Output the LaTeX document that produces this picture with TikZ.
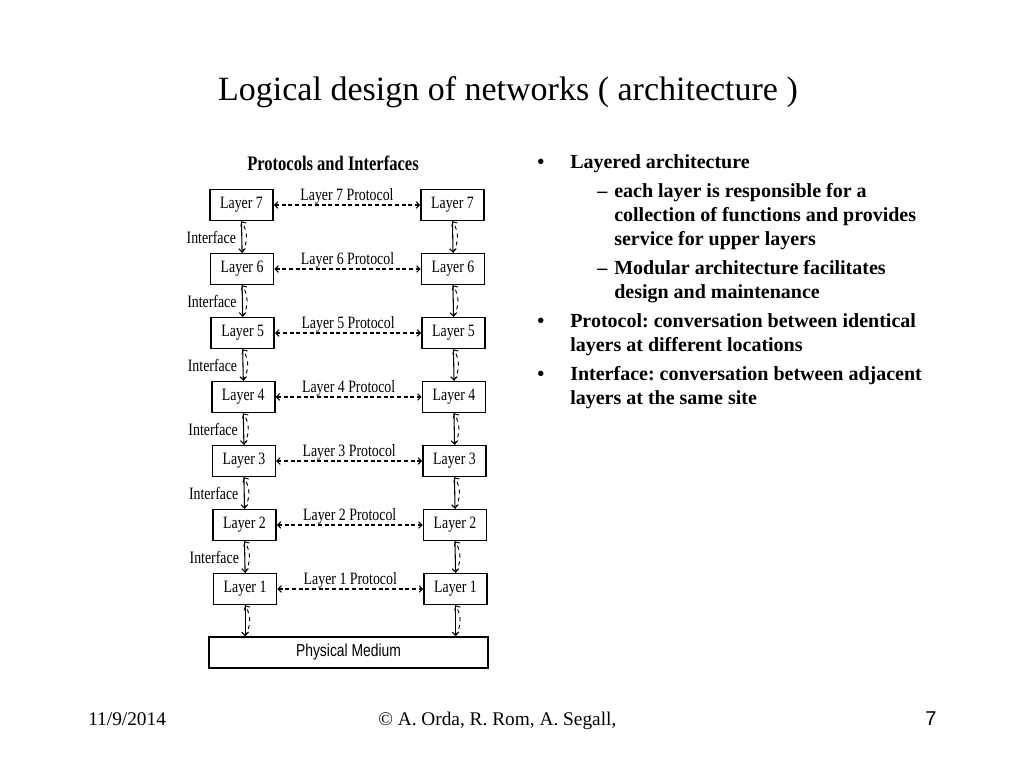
\documentclass[tikz,border=0pt]{standalone}
\usepackage{fontspec}
\usetikzlibrary{arrows.meta}
\setmainfont{Liberation Serif}
\newfontfamily\figfont[FakeStretch=0.8]{Liberation Serif}
\newfontfamily\figsans[FakeStretch=0.8]{Liberation Sans}
\newfontfamily\pagesans{Liberation Sans}
\frenchspacing

\begin{document}
\begin{tikzpicture}[x=0.75pt, y=-0.75pt, >={Straight Barb[length=2.5pt, width=5pt]},
  layer/.style={draw, line width=1.2pt, inner sep=0pt, minimum width=47.25pt, minimum height=23.25pt, font=\figfont\fontsize{13}{15}\selectfont},
  lbl/.style={font=\figfont\fontsize{13}{15}\selectfont, inner sep=1pt},
  txt/.style={font=\bfseries\fontsize{15}{18}\selectfont, inner sep=0pt, anchor=base west, align=left}]
\tikzset{proto/.style={<->, densely dashed, line width=0.8pt},
  iface/.style={->, line width=0.8pt},
  back/.style={->, dashed, line width=0.7pt, bend right=30}}
\fill[white] (0,0) rectangle (1024,768);
\useasboundingbox (0,0) rectangle (1024,768);

% title
\node[font=\fontsize{25.5}{30}\selectfont, anchor=base] (title) at (508,100) {Logical design of networks ( architecture )};

% figure
\node[font=\figfont\bfseries\fontsize{15.5}{18}\selectfont] (head) at (333,163) {Protocols and Interfaces};

\node[layer] (l7) at (241.5,205) {Layer 7};
\node[layer] (l6) at (242.1,269) {Layer 6};
\node[layer] (l5) at (242.7,333) {Layer 5};
\node[layer] (l4) at (243.3,397) {Layer 4};
\node[layer] (l3) at (243.9,461) {Layer 3};
\node[layer] (l2) at (244.5,525) {Layer 2};
\node[layer] (l1) at (245.1,589) {Layer 1};

\node[layer] (r7) at (452.5,205) {Layer 7};
\node[layer] (r6) at (453,269) {Layer 6};
\node[layer] (r5) at (453.5,333) {Layer 5};
\node[layer] (r4) at (454,397) {Layer 4};
\node[layer] (r3) at (454.5,461) {Layer 3};
\node[layer] (r2) at (455,525) {Layer 2};
\node[layer] (r1) at (455.5,589) {Layer 1};

\node[draw, line width=1.2pt, inner sep=0pt, minimum width=209.25pt, minimum height=23.25pt, font=\figsans\fontsize{13}{15}\selectfont] (pm) at (348.5,652.5) {Physical Medium};
\coordinate (pl) at (l1.south |- pm.north);
\coordinate (pr) at (r1.south |- pm.north);

\path[proto]
(l7) edge node[lbl, above=-1pt]{Layer 7 Protocol} (r7)
(l6) edge node[lbl, above=-1pt]{Layer 6 Protocol} (r6)
(l5) edge node[lbl, above=-1pt]{Layer 5 Protocol} (r5)
(l4) edge node[lbl, above=-1pt]{Layer 4 Protocol} (r4)
(l3) edge node[lbl, above=-1pt]{Layer 3 Protocol} (r3)
(l2) edge node[lbl, above=-1pt]{Layer 2 Protocol} (r2)
(l1) edge node[lbl, above=-1pt]{Layer 1 Protocol} (r1);

\path[iface]
(l7.south) edge node[lbl, left=3pt]{Interface} (l6.north)
(l6.north) edge[back] (l7.south)
(l6.south) edge node[lbl, left=3pt]{Interface} (l5.north)
(l5.north) edge[back] (l6.south)
(l5.south) edge node[lbl, left=3pt]{Interface} (l4.north)
(l4.north) edge[back] (l5.south)
(l4.south) edge node[lbl, left=3pt]{Interface} (l3.north)
(l3.north) edge[back] (l4.south)
(l3.south) edge node[lbl, left=3pt]{Interface} (l2.north)
(l2.north) edge[back] (l3.south)
(l2.south) edge node[lbl, left=3pt]{Interface} (l1.north)
(l1.north) edge[back] (l2.south)
(l1.south) edge (pl)
(pl) edge[back] (l1.south)

(r7.south) edge (r6.north)
(r6.north) edge[back] (r7.south)
(r6.south) edge (r5.north)
(r5.north) edge[back] (r6.south)
(r5.south) edge (r4.north)
(r4.north) edge[back] (r5.south)
(r4.south) edge (r3.north)
(r3.north) edge[back] (r4.south)
(r3.south) edge (r2.north)
(r2.north) edge[back] (r3.south)
(r2.south) edge (r1.north)
(r1.north) edge[back] (r2.south)
(r1.south) edge (pr)
(pr) edge[back] (r1.south);

% bullets
\node[txt] (d1) at (537,168) {•};
\node[txt] (t1) at (570,168) {Layered architecture};
\node[txt] (d2) at (597,197) {–};
\node[txt] (t2) at (614,245) {each layer is responsible for a\\collection of functions and provides\\service for upper layers};
\node[txt] (d3) at (597,274) {–};
\node[txt] (t3) at (614,298) {Modular architecture facilitates\\design and maintenance};
\node[txt] (d4) at (537,327) {•};
\node[txt] (t4) at (570,351) {Protocol: conversation between identical\\layers at different locations};
\node[txt] (d5) at (537,380) {•};
\node[txt] (t5) at (570,404) {Interface: conversation between adjacent\\layers at the same site};

% footer
\node[anchor=base west, inner sep=0pt, font=\fontsize{14.5}{17}\selectfont] (date) at (88,725) {11/9/2014};
\node[anchor=base west, inner sep=0pt, font=\fontsize{14.5}{17}\selectfont] (copy) at (378,725) {© A. Orda, R. Rom, A. Segall,};
\node[anchor=base west, inner sep=0pt, font=\pagesans\fontsize{15}{18}\selectfont] (page) at (925,725) {7};
\end{tikzpicture}
\end{document}
